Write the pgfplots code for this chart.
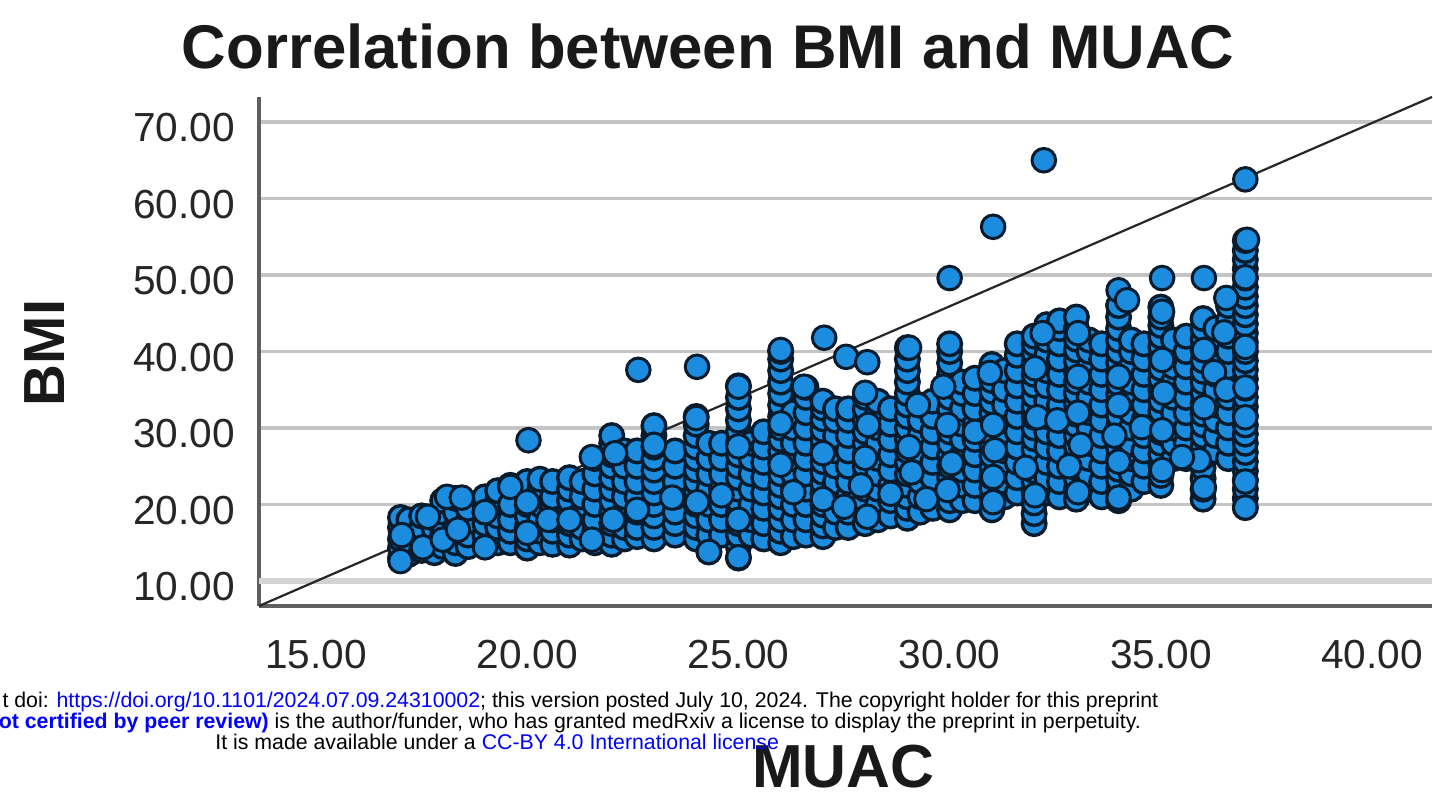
\documentclass[border=0pt]{standalone}
\usepackage{pgfplots}
\pgfplotsset{compat=1.18}
\usepackage{fontspec}
\setmainfont{Liberation Sans}
\definecolor{dot}{RGB}{28,140,222}
\definecolor{dotline}{RGB}{8,28,46}
\definecolor{gridc}{RGB}{196,196,196}
\definecolor{axc}{RGB}{95,95,95}
\definecolor{txt}{RGB}{38,38,38}
\begin{document}
\begin{tikzpicture}[x=1pt,y=1pt]
\path[use as bounding box] (0,0) rectangle (716.5,400.5);
\clip (0,0) rectangle (716.5,400.5);
\fill[white] (0,0) rectangle (716.5,400.5);
\begin{axis}[
  at={(129.5pt,97.5pt)},anchor=south west,
  scale only axis,width=586.5pt,height=254.5pt,
  xmin=13.65,xmax=41.42,ymin=6.73,ymax=73.27,
  axis lines=left,axis line style={-,draw=axc,line width=1.6pt},
  xtick={15,20,25,30,35,40},ytick={20,30,40,50,60,70},
  extra y ticks={10},extra y tick style={grid style={line width=2.6pt,color=gridc!75}},
  major tick length=0pt,
  ymajorgrids,grid style={line width=1.7pt,color=gridc},
  tick label style={font=\fontsize{20.3}{22}\selectfont,text=txt},
  yticklabel style={xshift=-8.5pt,yshift=-3pt},
  xticklabel style={yshift=-13.5pt},
  /pgf/number format/fixed,/pgf/number format/fixed zerofill,/pgf/number format/precision=2,
  /pgf/number format/assume math mode=true,
  clip=false,
]
\addplot[draw=black!85,line width=1.1pt] coordinates {(13.65,6.73)(41.42,73.27)};
\addplot[only marks,mark=*,mark size=5.9pt,mark options={fill=dot,draw=dotline,line width=1.7pt}] coordinates {
(17,13)(17,14.3)(17,15.5)(17,17)(17,18.3)(17.2,13.5)(17.2,15)(17.2,16.5)(17.2,18)
(17.5,14)(17.5,15.5)(17.5,17)(17.5,18.5)(17.8,13.7)(17.8,15.2)(17.8,16.8)(17.8,18.2)
(18,14.5)(18,16)(18,17.5)(18,19)(18,20.5)(18.3,13.6)(18.3,15)(18.3,17)(18.3,19)(18.3,20.8)
(18.6,14.5)(18.6,16)(18.6,17.8)(18.6,19.5)(19,14.6)(19,16)(19,17.5)(19,19)(19,20)(19,21)
(19.3,15)(19.3,17)(19.3,18.5)(19.3,20.5)(19.3,21.8)(19.6,15)(19.6,16.5)(19.6,18)(19.6,20)(19.6,22.5)
(20,14.3)(20,15.5)(20,17)(20,18.5)(20,20)(20,21.5)(20,23)(20.3,15)(20.3,16.5)(20.3,18)(20.3,20)(20.3,22)(20.3,23.3)
(20.6,14.8)(20.6,16.5)(20.6,18)(20.6,19.5)(20.6,21)(20.6,23)(21,14.7)(21,16)(21,17.5)(21,19)(21,20.5)(21,22)(21,23.5)
(21.3,15.5)(21.3,17)(21.3,19)(21.3,21)(21.3,23)(21.6,15)(21.6,16.5)(21.6,18)(21.6,20)(21.6,22)(21.6,24)(21.6,26)
(22,14.8)(22,16)(22,17.5)(22,19)(22,20.5)(22,22)(22,23.5)(22,25)(22,26.5)(22,28)(22,29)
(22.3,15.5)(22.3,17)(22.3,19)(22.3,21)(22.3,23)(22.3,25)(22.3,27)(22.6,15.8)(22.6,17)(22.6,19)(22.6,21)(22.6,23)(22.6,25)(22.6,27)
(23,15.5)(23,17)(23,18.5)(23,20)(23,21.5)(23,23)(23,24.5)(23,26)(23,27.5)(23,29)(23,30.3)
(23.5,16)(23.5,17.5)(23.5,19)(23.5,21)(23.5,23)(23.5,25)(23.5,27)
(24,15.5)(24,17)(24,18.5)(24,20)(24,21.5)(24,23)(24,24.5)(24,26)(24,27.5)(24,29)(24,30.5)(24,31.5)
(24.3,13.8)(24.3,16)(24.3,18)(24.3,20)(24.3,22)(24.3,24)(24.3,26)(24.3,28)(24.6,16)(24.6,18)(24.6,20)(24.6,22)(24.6,24)(24.6,26)(24.6,28)
(25,13)(25,14.5)(25,16)(25,17.5)(25,19)(25,20.5)(25,22)(25,23.5)(25,25)(25,26.5)(25,28)(25,29.5)(25,31)(25,32.5)(25,34)(25,35.5)
(25.3,16)(25.3,18)(25.3,20)(25.3,22)(25.3,24)(25.3,26)(25.3,28)(25.6,15.5)(25.6,17.5)(25.6,19.5)(25.6,21.5)(25.6,23.5)(25.6,25.5)(25.6,27.5)(25.6,29.5)
(26,15)(26,16.5)(26,18)(26,19.5)(26,21)(26,22.5)(26,24)(26,25.5)(26,27)(26,28.5)(26,30)(26,31.5)(26,33)(26,34.5)(26,36)(26,37.5)(26,39)(26,40)
(26.3,15.8)(26.3,18)(26.3,20)(26.3,22)(26.3,24)(26.3,26)(26.3,28)(26.3,30)(26.3,32)
(26.6,16)(26.6,18)(26.6,20)(26.6,22)(26.6,24)(26.6,26)(26.6,28)(26.6,30)(26.6,32)(26.6,34)(26.6,35.3)
(27,15.8)(27,17.2)(27,18.6)(27,20)(27,21.4)(27,22.8)(27,24.2)(27,25.6)(27,27)(27,28.4)(27,29.8)(27,31.2)(27,32.6)(27,33.5)
(27.3,17)(27.3,19)(27.3,21)(27.3,23)(27.3,25)(27.3,27)(27.3,29)(27.3,31)(27.3,32.5)
(27.6,17)(27.6,19)(27.6,21)(27.6,23)(27.6,25)(27.6,27)(27.6,29)(27.6,31)(27.6,32.5)
(28,17.5)(28,19)(28,20.5)(28,22)(28,23.5)(28,25)(28,26.5)(28,28)(28,29.5)(28,31)(28,32.5)(28,34)
(28.3,18)(28.3,20)(28.3,22)(28.3,24)(28.3,26)(28.3,28)(28.3,30)(28.3,32)(28.3,33.5)
(28.6,18.5)(28.6,20.5)(28.6,22.5)(28.6,24.5)(28.6,26.5)(28.6,28.5)(28.6,30.5)(28.6,32.5)
(29,18.2)(29,19.5)(29,21)(29,22.5)(29,24)(29,25.5)(29,27)(29,28.5)(29,30)(29,31.5)(29,33)(29,34.5)(29,36)(29,37.5)(29,39)(29,40.5)
(29.3,19)(29.3,21)(29.3,23)(29.3,25)(29.3,27)(29.3,29)(29.3,31)(29.3,33)(29.6,19.5)(29.6,21.5)(29.6,23.5)(29.6,25.5)(29.6,27.5)(29.6,29.5)(29.6,31.5)(29.6,33.5)
(30,19.3)(30,20.5)(30,22)(30,23.5)(30,25)(30,26.5)(30,28)(30,29.5)(30,31)(30,32.5)(30,34)(30,35.5)(30,37)(30,38.5)(30,40)(30,41)
(30.3,20.5)(30.3,22.5)(30.3,24.5)(30.3,26.5)(30.3,28.5)(30.3,30.5)(30.3,32.5)(30.3,34.5)(30.3,36)
(30.6,20.5)(30.6,22.5)(30.6,24.5)(30.6,26.5)(30.6,28.5)(30.6,30.5)(30.6,32.5)(30.6,34.5)(30.6,36.5)
(31,19.3)(31,20.8)(31,22.2)(31,23.6)(31,25)(31,26.4)(31,27.8)(31,29.2)(31,30.6)(31,32)(31,33.4)(31,34.8)(31,36.2)(31,37.6)(31,38.3)
(31.3,21)(31.3,23)(31.3,25)(31.3,27)(31.3,29)(31.3,31)(31.3,33)(31.3,35)(31.3,37.5)
(31.6,21.5)(31.6,23.5)(31.6,25.5)(31.6,27.5)(31.6,29.5)(31.6,31.5)(31.6,33.5)(31.6,35.5)(31.6,37.5)(31.6,39.5)(31.6,41)
(32,17.5)(32,18.8)(32,20.2)(32,21.6)(32,23)(32,24.4)(32,25.8)(32,27.2)(32,28.6)(32,30)(32,31.4)(32,32.8)(32,34.2)(32,35.6)(32,37)(32,38.4)(32,39.8)(32,41)(32,42)
(32.3,21.5)(32.3,23.5)(32.3,25.5)(32.3,27.5)(32.3,29.5)(32.3,31.5)(32.3,33.5)(32.3,35.5)(32.3,37.5)(32.3,39.5)(32.3,41.5)(32.3,43.5)
(32.6,21)(32.6,23)(32.6,25)(32.6,27)(32.6,29)(32.6,31)(32.6,33)(32.6,35)(32.6,37)(32.6,39)(32.6,41)(32.6,43)(32.6,44)
(33,20.7)(33,22)(33,23.4)(33,24.8)(33,26.2)(33,27.6)(33,29)(33,30.4)(33,31.8)(33,33.2)(33,34.6)(33,36)(33,37.4)(33,38.8)(33,40.2)(33,41.6)(33,43)(33,44.5)
(33.3,22)(33.3,24)(33.3,26)(33.3,28)(33.3,30)(33.3,32)(33.3,34)(33.3,36)(33.3,38)(33.3,40)(33.3,41.5)
(33.6,21)(33.6,23)(33.6,25)(33.6,27)(33.6,29)(33.6,31)(33.6,33)(33.6,35)(33.6,37)(33.6,39)(33.6,41)
(34,20.5)(34,21.8)(34,23.2)(34,24.6)(34,26)(34,27.4)(34,28.8)(34,30.2)(34,31.6)(34,33)(34,34.4)(34,35.8)(34,37.2)(34,38.6)(34,40)(34,41.5)(34,43)(34,44.5)(34,46)
(34.3,22)(34.3,24)(34.3,26)(34.3,28)(34.3,30)(34.3,32)(34.3,34)(34.3,36)(34.3,38)(34.3,40)(34.3,41.5)
(34.6,23)(34.6,25)(34.6,27)(34.6,29)(34.6,31)(34.6,33)(34.6,35)(34.6,37)(34.6,39)(34.6,41)
(35,22.5)(35,23.8)(35,25.2)(35,26.6)(35,28)(35,29.4)(35,30.8)(35,32.2)(35,33.6)(35,35)(35,36.4)(35,37.8)(35,39.2)(35,40.6)(35,42)(35,43.4)(35,44.5)(35,45.8)
(35.3,26)(35.3,28)(35.3,30)(35.3,32)(35.3,34)(35.3,36)(35.3,38)(35.3,40)(35.3,41.5)
(35.6,26)(35.6,28)(35.6,30)(35.6,32)(35.6,34)(35.6,36)(35.6,38)(35.6,40)(35.6,42)
(36,20.7)(36,22)(36,23.4)(36,24.8)(36,26.2)(36,27.6)(36,29)(36,30.4)(36,31.8)(36,33.2)(36,34.6)(36,36)(36,37.4)(36,38.8)(36,40.2)(36,41.6)(36,43)(36,44.3)
(36.3,27)(36.3,29)(36.3,31)(36.3,33)(36.3,35)(36.3,37)(36.3,39)(36.3,41)(36.3,43)
(36.6,26)(36.6,28)(36.6,30)(36.6,32)(36.6,34)(36.6,36)(36.6,38)(36.6,40)(36.6,42)(36.6,44)(36.6,46)
(37,19.6)(37,20.8)(37,22)(37,23.2)(37,24.4)(37,25.6)(37,26.8)(37,28)(37,29.2)(37,30.4)(37,31.6)(37,32.8)(37,34)(37,35.2)(37,36.4)(37,37.6)(37,38.8)(37,40)(37,41.2)(37,42.4)(37,43.6)(37,44.8)(37,46)(37,47.2)(37,48.4)(37,49.6)(37,50.8)(37,52)(37,53.2)(37,54.5)
};
\addplot[only marks,mark=*,mark size=5.9pt,mark options={fill=dot,draw=dotline,line width=1.5pt}] coordinates {
(20.03,28.4)(22.63,37.6)(24.02,38)(17.03,16)(17,12.6)(17.65,18.4)(17.53,14.4)(18,15.4)(18.1,21)(18.45,20.9)(18.36,16.7)(19,14.4)(19,19)(19.6,22.3)(20,20.3)(20,16.3)(20.5,18)(21,18)(21.53,15.4)(22.03,18)(22.6,19.3)(23.43,20.9)(24.02,20.3)(24.6,21.2)(23,27.8)(24,31.3)(22.08,26.7)(21.53,26.2)
(25,35.4)(25,27.6)(25,18)(25,13.1)(24.3,13.8)(26,40.2)(27.03,41.8)(26.55,35.4)(26,30.6)(26,25.2)(26.3,21.6)(27,26.7)(27,20.7)(27.5,19.7)(28,34.6)(28.07,30.4)(28,26.1)(27.9,22.5)(28.05,18.4)(28.6,21.4)(29.04,40.5)(29.04,27.5)(29.1,24.2)(29.45,20.7)(29.25,33)(29.85,35.4)(29.95,30.4)(30.05,25.4)(29.95,21.9)(30.6,29.5)(30.95,37.2)(31.03,30.4)(31.07,27.1)(31.03,23.6)(31.03,20.3)(31.8,24.8)(32.02,21.2)(32.02,37.8)(32.07,31.4)(32.2,42.4)(32.55,31)(33.04,42.4)(33.04,36.7)(33.04,32)(33.1,27.8)(32.83,25)(33.04,21.6)(34,48)(34.2,46.7)(34,36.7)(34,33)(33.9,29)(34,25.6)(34,20.9)(34.55,30.1)(35.03,49.6)(35.03,45.2)(35.03,38.9)(35.07,34.6)(35.03,29.7)(35.03,24.5)(36.02,49.6)(36.02,40.2)(36.02,32.7)(35.9,25.8)(36.02,22.2)(36.26,37.3)(36.55,47)(36.5,42.5)(36.55,35)(37.04,54.6)(37,49.7)(37,40.6)(37,35.3)(37,31.4)(37,23)(37,19.6)(37,62.5)(32.23,65)(31.03,56.3)(30,49.6)(27.55,39.3)(28.05,38.6)(35.5,26.2)
};
\end{axis}
\node[text=black!90] at (354,377.5) {\fontsize{30.85}{32}\selectfont\bfseries Correlation between BMI and MUAC};
\node[rotate=90,text=black!90] at (22.5,224) {\fontsize{29}{30}\selectfont\bfseries BMI};
\node[text=black!90,anchor=base,inner sep=0pt] at (421.7,6.8) {\fontsize{30.4}{31}\selectfont\bfseries MUAC};
\node[anchor=base east,inner sep=0pt] at (579.3,46.7) {\fontsize{10.65}{11}\selectfont t doi: \textcolor{blue}{https://doi.org/10.1101/2024.07.09.24310002}; this version posted July 10, 2024. The copyright holder for this preprint};
\node[anchor=base east,inner sep=0pt] at (570.7,36.2) {\fontsize{10.65}{11}\selectfont \textcolor{blue}{\bfseries ot certified by peer review)} is the author/funder, who has granted medRxiv a license to display the preprint in perpetuity.};
\node[anchor=base west,inner sep=0pt] at (107.5,25.7) {\fontsize{10.65}{11}\selectfont It is made available under a \textcolor{blue}{CC-BY 4.0 International license}};
\end{tikzpicture}
\end{document}
